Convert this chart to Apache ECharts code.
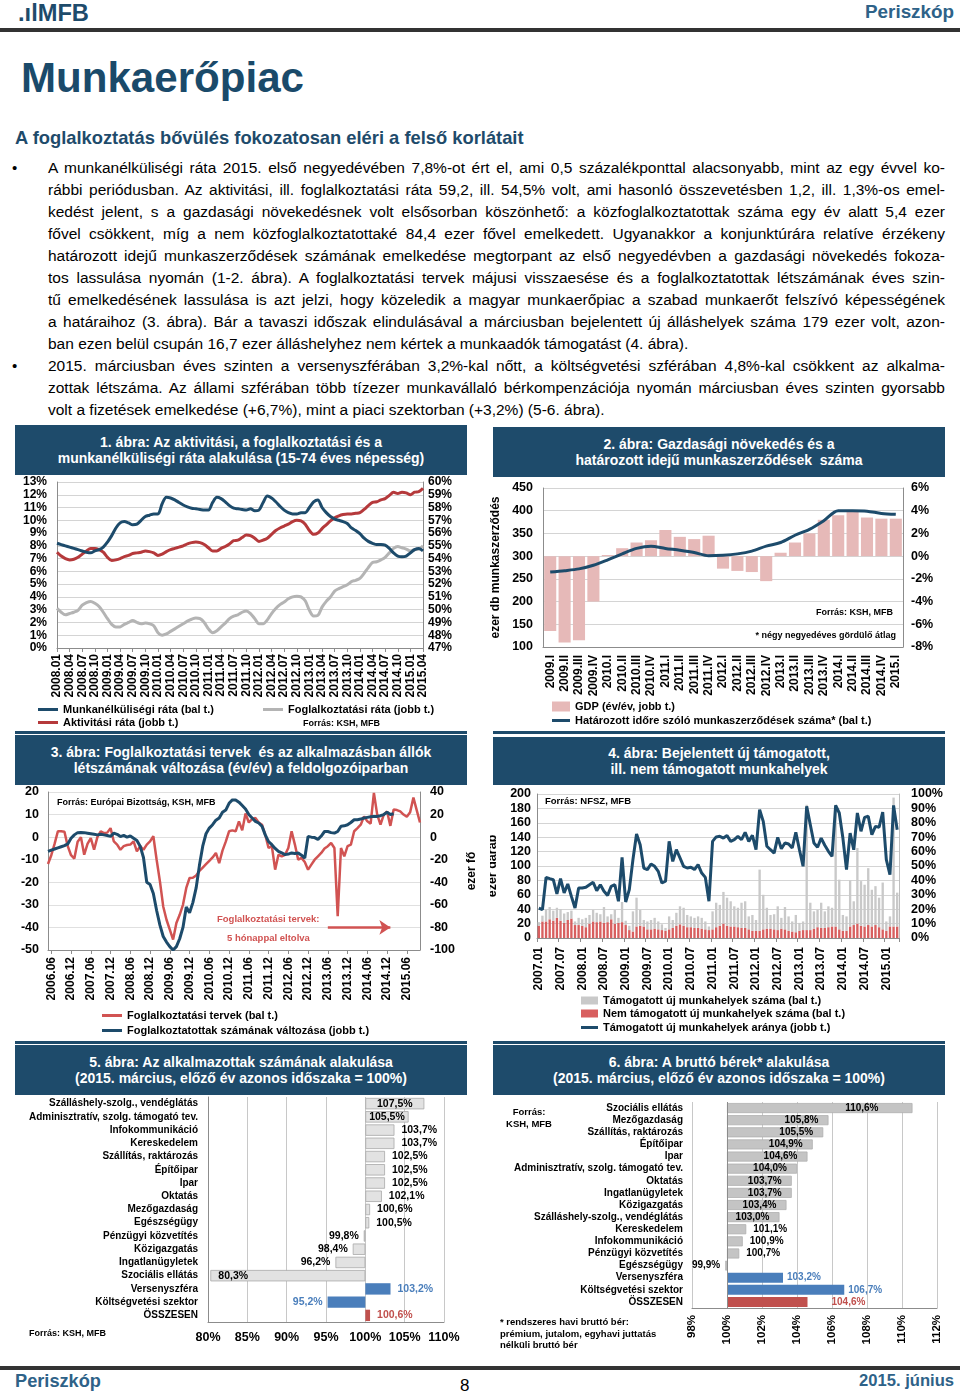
<!DOCTYPE html>
<html><head><meta charset="utf-8">
<script src="https://cdn.jsdelivr.net/npm/echarts@6.0.0/dist/echarts.min.js"></script>
<style>
html,body{margin:0;padding:0;background:#fff;}
body{width:960px;height:1395px;position:relative;overflow:hidden;font-family:"Liberation Sans",Arial,sans-serif;color:#000;}
.a{position:absolute;white-space:nowrap;}
.tbox{position:absolute;background:#1e4b6b;color:#fff;font-weight:bold;font-size:14px;line-height:16px;text-align:center;box-sizing:border-box;padding-top:9px;}
.chart{position:absolute;}
.bline{position:absolute;height:3px;background:#1e4b6b;}
.bl{position:absolute;left:48px;width:897px;height:22px;line-height:22px;text-align:justify;text-align-last:justify;}
.bl.last{text-align-last:left;}
.bullet{position:absolute;left:12px;height:22px;line-height:22px;font-size:15px;}
</style></head>
<body>
<div class="a" id="logo" style="left:18px;top:1px;height:24px;line-height:24px;font-weight:bold;font-size:21px;color:#1e4b6b;">.ılMFB</div>
<div class="a" id="hper" style="left:865px;top:1px;height:22px;line-height:22px;font-weight:bold;font-size:17px;color:#2e6288;">Periszkóp</div>
<div class="a" style="left:0;top:28px;width:960px;height:4px;background:#333;"></div>
<div class="a" id="mtitle" style="left:21px;top:57px;height:41px;line-height:41px;font-weight:bold;font-size:41px;color:#1a4a6a;">Munkaerőpiac</div>
<div class="a" id="subt" style="left:15px;top:128px;height:20px;line-height:20px;font-weight:bold;font-size:16px;color:#1e4b6b;">A foglalkoztatás bővülés fokozatosan eléri a felső korlátait</div>
<div id="body"></div>

<div class="tbox" style="left:15px;top:425px;width:452px;height:50px;">1. ábra: Az aktivitási, a foglalkoztatási és a<br>munkanélküliségi ráta alakulása (15-74 éves népesség)</div>
<div class="chart" id="c1" style="left:15px;top:475px;width:460px;height:255px;"></div>
<div class="bline" style="left:15px;top:731px;width:452px;"></div>

<div class="tbox" style="left:493px;top:427px;width:452px;height:50px;">2. ábra: Gazdasági növekedés és a<br>határozott idejű munkaszerződések&nbsp; száma</div>
<div class="chart" id="c2" style="left:490px;top:477px;width:460px;height:255px;"></div>
<div class="bline" style="left:493px;top:731px;width:452px;"></div>

<div class="tbox" style="left:15px;top:735px;width:452px;height:50px;">3. ábra: Foglalkoztatási tervek&nbsp; és az alkalmazásban állók<br>létszámának változása (év/év) a feldolgozóiparban</div>
<div class="chart" id="c3" style="left:15px;top:785px;width:460px;height:255px;"></div>
<div class="bline" style="left:15px;top:1041px;width:452px;"></div>

<div class="tbox" style="left:493px;top:737px;width:452px;height:48px;padding-top:8px;">4. ábra: Bejelentett új támogatott,<br>ill. nem támogatott munkahelyek</div>
<div class="chart" id="c4" style="left:490px;top:785px;width:460px;height:255px;"></div>
<div class="bline" style="left:493px;top:1041px;width:452px;"></div>

<div class="tbox" style="left:15px;top:1045px;width:452px;height:50px;">5. ábra: Az alkalmazottak számának alakulása<br>(2015. március, előző év azonos időszaka = 100%)</div>
<div class="chart" id="c5" style="left:15px;top:1095px;width:460px;height:262px;"></div>

<div class="tbox" style="left:493px;top:1045px;width:452px;height:50px;">6. ábra: A bruttó bérek* alakulása<br>(2015. március, előző év azonos időszaka = 100%)</div>
<div class="chart" id="c6" style="left:490px;top:1095px;width:460px;height:262px;"></div>

<div class="a" style="left:0;top:1366px;width:960px;height:4px;background:#333;"></div>
<div class="a" id="fper" style="left:15px;top:1371px;height:20px;line-height:20px;font-weight:bold;font-size:17px;color:#2e6288;">Periszkóp</div>
<div class="a" style="left:460px;top:1376px;height:20px;line-height:20px;font-size:17px;">8</div>
<div class="a" id="fdate" style="left:859px;top:1371px;height:20px;line-height:20px;font-weight:bold;font-size:17px;color:#2e6288;">2015. június</div>

<script>
// ---------------- TEXT ----------------
const bodyLines = [
 "A munkanélküliségi ráta 2015. első negyedévében 7,8%-ot ért el, ami 0,5 százalékponttal alacsonyabb, mint az egy évvel ko-",
 "rábbi periódusban. Az aktivitási, ill. foglalkoztatási ráta 59,2, ill. 54,5% volt, ami hasonló összevetésben 1,2, ill. 1,3%-os emel-",
 "kedést jelent, s a gazdasági növekedésnek volt elsősorban köszönhető: a közfoglalkoztatottak száma egy év alatt 5,4 ezer",
 "fővel csökkent, míg a nem közfoglalkoztatottaké 84,4 ezer fővel emelkedett. Ugyanakkor a konjunktúrára relatíve érzékeny",
 "határozott idejű munkaszerződések számának emelkedése megtorpant az első negyedévben a gazdasági növekedés fokoza-",
 "tos lassulása nyomán (1-2. ábra). A foglalkoztatási tervek májusi visszaesése és a foglalkoztatottak létszámának éves szin-",
 "tű emelkedésének lassulása is azt jelzi, hogy közeledik a magyar munkaerőpiac a szabad munkaerőt felszívó képességének",
 "a határaihoz (3. ábra). Bár a tavaszi időszak elindulásával a márciusban bejelentett új álláshelyek száma 179 ezer volt, azon-",
 "ban ezen belül csupán 16,7 ezer álláshelyhez nem kértek a munkaadók támogatást (4. ábra).",
 "2015. márciusban éves szinten a versenyszférában 3,2%-kal nőtt, a költségvetési szférában 4,8%-kal csökkent az alkalma-",
 "zottak létszáma. Az állami szférában több tízezer munkavállaló bérkompenzációja nyomán márciusban éves szinten gyorsabb",
 "volt a fizetések emelkedése (+6,7%), mint a piaci szektorban (+3,2%) (5-6. ábra)."
];
const lastLines = [8, 11];
const bulletLines = [0, 9];

// ---------------- DATA ----------------
// Figure 1 (monthly 2008.01 - 2015.04)
const unemployment = [8.2,8.1,8.0,7.9,7.8,7.7,7.6,7.5,7.45,7.6,7.7,7.9,
 8.3,8.8,9.4,9.8,9.9,9.8,9.65,9.7,10.0,10.3,10.4,10.5,
 10.5,11.3,11.8,11.75,11.6,11.4,11.2,11.05,10.95,10.9,10.85,10.8,
 10.8,11.4,11.8,11.7,11.45,11.15,10.95,10.9,10.85,10.8,10.9,10.75,
 10.8,11.4,11.9,11.75,11.45,11.1,10.8,10.6,10.5,10.5,10.6,10.6,
 11.0,11.45,11.6,11.0,10.6,10.3,10.1,10.0,9.9,9.75,9.4,9.2,
 8.95,8.6,8.35,8.2,8.1,8.1,8.05,7.8,7.45,7.2,7.15,7.2,
 7.45,7.7,7.8,7.6];
const activity = [54.5,54.2,54.0,53.9,53.95,54.1,54.35,54.6,54.8,54.8,54.7,54.5,
 54.1,53.85,53.9,54.0,54.15,54.25,54.4,54.45,54.5,54.6,54.55,54.45,
 54.25,54.35,54.55,54.7,54.8,54.9,55.0,55.15,55.25,55.3,55.25,55.1,
 54.85,54.6,54.6,54.8,54.95,55.15,55.4,55.45,55.65,55.85,55.8,55.6,
 55.35,55.45,55.6,55.9,56.2,56.4,56.55,56.7,56.9,57.0,56.95,56.7,
 56.2,55.9,56.0,56.35,56.65,56.95,57.2,57.35,57.45,57.5,57.5,57.55,
 57.6,57.85,58.15,58.4,58.45,58.6,58.7,58.95,59.2,59.1,59.2,59.15,
 59.0,59.2,59.25,59.5];
const employment = [50.1,49.8,49.6,49.7,49.8,49.95,50.35,50.55,50.65,50.5,50.25,49.8,
 49.3,48.85,48.65,48.65,48.85,49.0,49.15,49.0,48.9,48.95,48.9,48.75,
 48.2,48.0,48.1,48.3,48.5,48.7,48.9,49.1,49.25,49.35,49.3,49.0,
 48.5,48.2,48.35,48.65,48.95,49.3,49.5,49.6,49.8,49.9,49.7,49.3,
 48.9,48.9,49.2,49.7,50.1,50.4,50.6,50.85,51.0,51.05,51.0,50.7,
 49.95,49.5,49.55,50.2,50.65,51.0,51.45,51.65,51.8,51.95,52.2,52.3,
 52.45,52.85,53.3,53.7,53.75,53.9,54.1,54.45,54.8,54.95,54.85,54.75,
 54.6,54.7,54.75,55.0];

// Figure 2 (quarterly 2009.I - 2015.I)
const gdp = [-6.6,-7.6,-7.4,-4.0,0.1,0.7,1.2,1.4,2.3,1.7,1.5,1.8,-1.1,-1.3,-1.4,-2.2,0.3,1.2,2.0,3.2,3.6,3.9,3.4,3.3,3.3];
const contracts = [265,268,272,280,292,305,317,322,317,313,308,301,302,305,311,322,330,346,359,378,400,400,399,394,392];

// Figure 3 (monthly 2006.05 - 2015.10)
const plans = [-11.9,-8,-3,2.6,2.6,2.4,-4,-8,-9.5,-2,
 0,-7.8,-3,-0.4,-5.6,0,2.6,1.8,2,4,
 -1.9,-3.3,-5.6,-4,-3.5,-3.3,-1.9,-6.3,-4,-5.6,
 -3.3,-1.9,0.4,-10,-19.6,-30.7,-36.6,-41,-45.4,-38,
 -34.4,-30,-22.5,-18.1,-18,-17,-15,-13.5,-12,-10.5,
 -9,-7,-11.5,-6,-2,2.6,3,2.6,7,3,
 10.5,6.5,8,8.5,6.5,5.5,1,-4.8,-4,-14.4,
 -7.8,-8.5,-7.8,-4.8,2.6,-3.3,-10,-9.2,-11,-14.4,
 -12.2,-10,-8.5,-7,-5,-4,-2.6,-4.8,-35,-4.8,
 -8.5,-4,-3.3,2.6,4,5.5,9.2,7,6,19.6,
 10,5.5,10,11.4,5,12.2,12,11.4,10,9,
 11,17.5,12,6.5];
const employedChange = [-12.6,-11.5,-10.5,-9.5,-8.5,-7.5,-6,-1,2,4,
 4.2,4,3.5,3,2.5,2,2.5,2,1.5,0.7,
 3.5,2.5,0.5,1.5,0,1,-1,-3,-8,-18,
 -40,-42,-50,-65,-78,-88,-93,-97,-100,-97,
 -90,-80,-62,-67,-58,-45,-25,-8,3,8,
 11,15,17,22,24,30,33,33,31,28,
 25,20,17,14,12.5,9.6,2,-4,-6.7,-10,
 -12.6,-14,-15.5,-15,-14,-14.5,-14,-16,-18.5,0.7,
 0,-0.4,-2,1,5,5,4,3.6,5,9.6,
 10,11,13,15.4,15.4,16,17,17.5,18,18.4,
 18.4,19,20,22,20,20.7];

// Figure 4 (monthly 2007.01 - 2015.04), ezer darab
const supportedJobs = [5,8,16,17,14,14,16,13,11,11,5,10,
 9,13,12,16,13,10,22,8,7,19,7,28,
 6,6,28,40,22,9,11,13,15,11,8,4,
 18,11,18,25,25,17,15,14,16,15,11,5,
 25,34,29,44,39,35,28,27,35,37,18,22,
 15,85,48,29,19,21,33,15,31,20,14,24,
 11,12,174,38,24,24,35,23,29,26,169,69,
 22,20,64,33,105,62,58,79,51,54,41,65,
 13,14,179,47];
const unsupportedJobs = [17,23,23,26,24,28,24,21,25,27,18,18,
 17,15,20,23,22,23,21,22,26,20,21,22,
 18,11,9,16,17,16,12,12,13,12,11,10,
 12,14,17,19,17,15,15,14,14,13,12,11,
 12,15,17,20,17,16,16,15,14,14,12,10,
 10,10,12,13,13,12,11,13,12,10,9,8,
 10,11,11,11,13,15,14,14,15,16,16,12,
 10,10,16,18,20,17,16,18,16,18,15,12,
 10,16,16,16];
const supportedShare = [20.8,19.7,42.1,41.2,40.5,30.6,41.2,31.3,37.5,28.9,
 20.8,34.7,34.7,35.2,37.0,38.7,32.9,37.0,32.4,29.6,
 35.9,37.0,25.5,56.0,25.0,33.6,54.4,72.2,64.8,48.6,
 47.5,51.4,49.8,46.3,38.2,39.4,67.1,53.2,61.3,55.6,
 49.8,48.6,49.1,47.5,50.9,45.1,42.1,25.5,67.1,70.2,
 70.6,69.4,71.1,67.1,68.3,70.6,68.3,73.4,67.1,71.3,
 61.3,89.1,81.0,63.7,61.3,59.0,69.9,62.0,66.0,65.3,
 62.5,73.4,61.3,49.8,91.4,78.7,66.0,63.0,69.4,64.4,
 60.2,56.7,92.1,86.8,69.4,47.5,72.9,61.3,86.8,74.1,
 83.8,84.5,71.8,77.5,76.9,87.5,54.4,44.0,92.1,75.2];

// Figure 5
const sectors5 = ['Szálláshely-szolg., vendéglátás','Adminisztratív, szolg. támogató tev.','Infokommunikáció','Kereskedelem','Szállítás, raktározás','Építőipar','Ipar','Oktatás','Mezőgazdaság','Egészségügy','Pénzügyi közvetítés','Közigazgatás','Ingatlanügyletek','Szociális ellátás','Versenyszféra','Költségvetési szektor','ÖSSZESEN'];
const employees5 = [107.5,105.5,103.7,103.7,102.5,102.5,102.5,102.1,100.6,100.5,99.8,98.4,96.2,80.3,103.2,95.2,100.6];

// Figure 6
const sectors6 = ['Szociális ellátás','Mezőgazdaság','Szállítás, raktározás','Építőipar','Ipar','Adminisztratív, szolg. támogató tev.','Oktatás','Ingatlanügyletek','Közigazgatás','Szálláshely-szolg., vendéglátás','Kereskedelem','Infokommunikáció','Pénzügyi közvetítés','Egészségügy','Versenyszféra','Költségvetési szektor','ÖSSZESEN'];
const wages6 = [110.6,105.8,105.5,104.9,104.6,104.0,103.7,103.7,103.4,103.0,101.1,100.9,100.7,99.9,103.2,106.7,104.6];

// ---------------- HELPERS ----------------
function monthRange(y0, m0, y1, m1) {
  const a = []; let y = y0, m = m0;
  while (y < y1 || (y === y1 && m <= m1)) { a.push(y + '.' + String(m).padStart(2, '0')); m++; if (m > 12) { m = 1; y++; } }
  return a;
}
const months1 = monthRange(2008, 1, 2015, 4);
const quarters2 = [];
for (let y = 2009; y <= 2015; y++) for (const q of ['I','II','III','IV']) { if (y === 2015 && q !== 'I') break; quarters2.push(y + '.' + q); }
const months3 = monthRange(2006, 5, 2015, 10);
const months4 = monthRange(2007, 1, 2015, 4);

const FONT = '"Liberation Sans", Arial, sans-serif';
const B = {fontFamily: FONT, fontWeight: 'bold', color: '#000'};
const BLUE = '#1d4b6b', RED1 = '#b5393b', GRAY1 = '#b4b4b4', RED3 = '#d15352';
const AX = '#8c8c8c', GRID = '#d4d4d4';
const pct = v => v.toFixed(1).replace('.', ',') + '%';

function lg(name, left, top, w, h, fs) {
  return {data: [name], left, top, padding: 0, itemWidth: w, itemHeight: h, icon: 'rect', selectedMode: false,
    textStyle: Object.assign({}, B, {fontSize: fs || 11})};
}
function gtext(text, left, top, size, color, extra) {
  return Object.assign({type: 'text', left, top, silent: true,
    style: {text, font: 'bold ' + size + 'px ' + FONT, fill: color || '#000'}}, extra || {});
}
function init(id) { return echarts.init(document.getElementById(id), null, {renderer: 'canvas'}); }

// body text
(function(){
  const host = document.getElementById('body');
  const meas = document.createElement('span');
  meas.style.cssText = 'position:absolute;visibility:hidden;white-space:nowrap;font-size:15px;font-family:' + FONT;
  document.body.appendChild(meas);
  let maxW = 0;
  bodyLines.forEach(t => { meas.textContent = t; maxW = Math.max(maxW, meas.getBoundingClientRect().width); });
  meas.remove();
  const fs = Math.min(15.5, 15 * 893 / maxW);
  bodyLines.forEach((t, i) => {
    const d = document.createElement('div');
    d.className = 'bl' + (lastLines.includes(i) ? ' last' : '');
    d.style.top = (157 + 22 * i) + 'px';
    d.style.fontSize = fs + 'px';
    d.textContent = t;
    host.appendChild(d);
    if (bulletLines.includes(i)) {
      const b = document.createElement('div'); b.className = 'bullet'; b.style.top = (157 + 22 * i) + 'px'; b.textContent = '•'; host.appendChild(b);
    }
  });
})();
function fitW(id, w) { const el = document.getElementById(id); const cw = el.getBoundingClientRect().width; const fs = parseFloat(getComputedStyle(el).fontSize); el.style.fontSize = (fs * w / cw) + 'px'; }
fitW('logo', 71); fitW('hper', 89); fitW('mtitle', 283); fitW('subt', 509); fitW('fper', 86); fitW('fdate', 95);
(function(){ const el = document.getElementById('fdate'); el.style.left = (954 - el.getBoundingClientRect().width) + 'px';
  const h = document.getElementById('hper'); h.style.left = (954 - h.getBoundingClientRect().width) + 'px'; })();

// ---------------- CHART 1 ----------------
init('c1').setOption({
  animation: false, textStyle: {fontFamily: FONT},
  grid: {left: 42, right: 52, top: 7, bottom: 82, containLabel: false, outerBoundsMode: 'none'},
  xAxis: {type: 'category', data: months1, boundaryGap: false,
    axisLine: {onZero: false, lineStyle: {color: AX}},
    axisTick: {show: true, interval: 2, length: 4, lineStyle: {color: AX}},
    axisLabel: Object.assign({}, B, {interval: 2, rotate: 90, fontSize: 12, margin: 6})},
  yAxis: [
    {type: 'value', min: 0, max: 13, interval: 1, axisLabel: Object.assign({}, B, {fontSize: 12, formatter: '{value}%', margin: 10, showMinLabel: true, showMaxLabel: true}),
     axisLine: {show: true, lineStyle: {color: AX}}, axisTick: {show: false}, splitLine: {lineStyle: {color: GRID}}},
    {type: 'value', min: 47, max: 60, interval: 1, position: 'right', axisLabel: Object.assign({}, B, {fontSize: 12, formatter: '{value}%', margin: 5, showMinLabel: true, showMaxLabel: true}),
     axisLine: {show: true, lineStyle: {color: AX}}, axisTick: {show: false}, splitLine: {show: false}}
  ],
  legend: [lg('Munkanélküliségi ráta (bal t.)', 23, 229, 20, 3), lg('Foglalkoztatási ráta (jobb t.)', 248, 229, 20, 3), lg('Aktivitási ráta (jobb t.)', 23, 242, 20, 3)],
  series: [
    {name: 'Foglalkoztatási ráta (jobb t.)', type: 'line', yAxisIndex: 1, data: employment, symbol: 'none', smooth: 0.3, lineStyle: {width: 3, color: GRAY1}, itemStyle: {color: GRAY1}},
    {name: 'Aktivitási ráta (jobb t.)', type: 'line', yAxisIndex: 1, data: activity, symbol: 'none', smooth: 0.3, lineStyle: {width: 3, color: RED1}, itemStyle: {color: RED1}},
    {name: 'Munkanélküliségi ráta (bal t.)', type: 'line', yAxisIndex: 0, data: unemployment, symbol: 'none', smooth: 0.3, lineStyle: {width: 3, color: BLUE}, itemStyle: {color: BLUE}}
  ],
  graphic: [gtext('Forrás: KSH, MFB', 288, 244, 9)]
});

// ---------------- CHART 2 ----------------
init('c2').setOption({
  animation: false, textStyle: {fontFamily: FONT},
  grid: {left: 53, right: 47, top: 11, bottom: 85, containLabel: false, outerBoundsMode: 'none'},
  xAxis: {type: 'category', data: quarters2, boundaryGap: true,
    axisLine: {onZero: false, lineStyle: {color: AX}}, axisTick: {show: false},
    axisLabel: Object.assign({}, B, {interval: 0, rotate: 90, fontSize: 12, margin: 8})},
  yAxis: [
    {type: 'value', min: 100, max: 450, interval: 50, name: 'ezer db munkaszerződés', nameLocation: 'middle', nameGap: 40, nameRotate: 90,
     nameTextStyle: Object.assign({}, B, {fontSize: 12}),
     axisLabel: Object.assign({}, B, {fontSize: 12.5, margin: 10, showMinLabel: true, showMaxLabel: true}),
     axisLine: {show: true, lineStyle: {color: AX}}, axisTick: {show: false}, splitLine: {lineStyle: {color: GRID}}},
    {type: 'value', min: -8, max: 6, interval: 2, position: 'right',
     axisLabel: Object.assign({}, B, {fontSize: 12.5, formatter: '{value}%', margin: 8, showMinLabel: true, showMaxLabel: true}),
     axisLine: {show: true, lineStyle: {color: AX}}, axisTick: {show: false}, splitLine: {show: false}}
  ],
  legend: [lg('GDP (év/év, jobb t.)', 62, 224, 18, 10), lg('Határozott időre szóló munkaszerződések száma* (bal t.)', 62, 238, 18, 3)],
  series: [
    {name: 'GDP (év/év, jobb t.)', type: 'bar', yAxisIndex: 1, data: gdp, barCategoryGap: '16%', itemStyle: {color: '#e6b9b8'}},
    {name: 'Határozott időre szóló munkaszerződések száma* (bal t.)', type: 'line', yAxisIndex: 0, data: contracts, symbol: 'none', smooth: 0.3,
     lineStyle: {width: 3, color: BLUE}, itemStyle: {color: BLUE}}
  ],
  graphic: [gtext('Forrás: KSH, MFB', null, 131, 9, '#000', {right: 57}), gtext('* négy negyedéves gördülő átlag', null, 154, 9, '#000', {right: 54})]
});

// ---------------- CHART 3 ----------------
init('c3').setOption({
  animation: false, textStyle: {fontFamily: FONT},
  grid: {left: 33, right: 55, top: 7, bottom: 90, containLabel: false, outerBoundsMode: 'none'},
  xAxis: {type: 'category', data: months3, boundaryGap: false,
    axisLine: {onZero: false, lineStyle: {color: AX}},
    axisTick: {show: true, length: 4, interval: (i) => (i - 1) % 6 === 0, lineStyle: {color: AX}},
    axisLabel: Object.assign({}, B, {interval: (i) => (i - 1) % 6 === 0, rotate: 90, fontSize: 12, margin: 7})},
  yAxis: [
    {type: 'value', min: -50, max: 20, interval: 10, axisLabel: Object.assign({}, B, {fontSize: 12.5, margin: 9, showMinLabel: true, showMaxLabel: true}),
     axisLine: {show: true, lineStyle: {color: AX}}, axisTick: {show: false}, splitLine: {lineStyle: {color: '#e0e0e0'}}},
    {type: 'value', min: -100, max: 40, interval: 20, position: 'right', name: 'ezer fő', nameLocation: 'middle', nameGap: 38, nameRotate: 90,
     nameTextStyle: Object.assign({}, B, {fontSize: 12}),
     axisLabel: Object.assign({}, B, {fontSize: 12.5, margin: 10, showMinLabel: true, showMaxLabel: true}),
     axisLine: {show: true, lineStyle: {color: AX}}, axisTick: {show: false}, splitLine: {show: false}}
  ],
  legend: [lg('Foglalkoztatási tervek (bal t.)', 87, 225, 20, 3), lg('Foglalkoztatottak számának változása (jobb t.)', 87, 240, 20, 3)],
  series: [
    {name: 'Foglalkoztatási tervek (bal t.)', type: 'line', yAxisIndex: 0, data: plans, symbol: 'none',
     lineStyle: {width: 2.5, color: RED3}, itemStyle: {color: RED3},
     markLine: {silent: true, symbol: ['none', 'arrow'], symbolSize: 11, label: {show: false}, lineStyle: {color: RED3, width: 2.5, type: 'solid'},
       data: [[{coord: ['2013.06', -40]}, {coord: ['2015.01', -40]}]]}},
    {name: 'Foglalkoztatottak számának változása (jobb t.)', type: 'line', yAxisIndex: 1, data: employedChange, symbol: 'none',
     lineStyle: {width: 3, color: BLUE}, itemStyle: {color: BLUE}}
  ],
  graphic: [gtext('Forrás: Európai Bizottság, KSH, MFB', 42, 13, 9),
            gtext('Foglalkoztatási tervek:', 202, 129, 9.5, RED3),
            gtext('5 hónappal eltolva', 212, 148, 9.5, RED3)]
});

// ---------------- CHART 4 ----------------
init('c4').setOption({
  animation: false, textStyle: {fontFamily: FONT},
  grid: {left: 47, right: 51, top: 9, bottom: 102, containLabel: false, outerBoundsMode: 'none'},
  xAxis: {type: 'category', data: months4, boundaryGap: true,
    axisLine: {onZero: false, lineStyle: {color: AX}},
    axisTick: {show: true, length: 4, interval: (i) => i % 6 === 0, lineStyle: {color: AX}},
    axisLabel: Object.assign({}, B, {interval: (i) => i % 6 === 0, rotate: 90, fontSize: 12, margin: 9})},
  yAxis: [
    {type: 'value', min: 0, max: 200, interval: 20, name: 'ezer darab', nameLocation: 'middle', nameGap: 32, nameRotate: 90,
     nameTextStyle: Object.assign({}, B, {fontSize: 12.5}),
     axisLabel: Object.assign({}, B, {fontSize: 12.5, margin: 6, showMinLabel: true, showMaxLabel: true}),
     axisLine: {show: true, lineStyle: {color: AX}}, axisTick: {show: false}, splitLine: {lineStyle: {color: GRID}}},
    {type: 'value', min: 0, max: 100, interval: 10, position: 'right',
     axisLabel: Object.assign({}, B, {fontSize: 12.5, formatter: '{value}%', margin: 12, showMinLabel: true, showMaxLabel: true}),
     axisLine: {show: true, lineStyle: {color: '#bdbdbd'}}, axisTick: {show: false}, splitLine: {show: false}}
  ],
  legend: [lg('Támogatott új munkahelyek száma (bal t.)', 91, 210, 17, 8), lg('Nem támogatott új munkahelyek száma (bal t.)', 91, 223, 17, 8),
           lg('Támogatott új munkahelyek aránya (jobb t.)', 91, 237, 17, 3)],
  series: [
    {name: 'Nem támogatott új munkahelyek száma (bal t.)', type: 'bar', stack: 'jobs', yAxisIndex: 0, data: unsupportedJobs, barCategoryGap: '35%', itemStyle: {color: '#d85f5f'}},
    {name: 'Támogatott új munkahelyek száma (bal t.)', type: 'bar', stack: 'jobs', yAxisIndex: 0, data: supportedJobs, itemStyle: {color: '#c9c9c9'}},
    {name: 'Támogatott új munkahelyek aránya (jobb t.)', type: 'line', yAxisIndex: 1, data: supportedShare, symbol: 'none',
     lineStyle: {width: 3, color: BLUE}, itemStyle: {color: BLUE}}
  ],
  graphic: [gtext('Forrás: NFSZ, MFB', 55, 11, 9.5)]
});

// ---------------- CHART 5 & 6 (bars from 100%) ----------------
const SPECIAL = {'Versenyszféra': '#4a7ebb', 'Költségvetési szektor': '#4a7ebb', 'ÖSSZESEN': '#c0504d'};
function hbarOption(cats, vals, cfg) {
  const base = vals.map(v => Math.min(v, 100));
  const diff = vals.map((v, i) => {
    const c = SPECIAL[cats[i]];
    const lab = cfg.labelFor(v, !!c, i);
    return {value: Math.abs(v - 100),
      itemStyle: c ? {color: c} : {color: cfg.gray, borderColor: cfg.grayBorder, borderWidth: 0.8},
      label: Object.assign({show: true, formatter: pct(v), color: c || '#000', fontFamily: FONT, fontWeight: 'bold', fontSize: cfg.labelSize}, lab)};
  });
  return {
    animation: false, textStyle: {fontFamily: FONT},
    grid: Object.assign({containLabel: false, outerBoundsMode: 'none'}, cfg.grid),
    xAxis: {type: 'value', min: cfg.min, max: cfg.max, interval: cfg.step,
      axisLabel: Object.assign({}, B, {fontSize: cfg.xSize, formatter: '{value}%', rotate: cfg.xRotate, margin: cfg.xMargin, showMinLabel: true, showMaxLabel: true}),
      axisLine: {show: true, lineStyle: {color: AX}}, axisTick: {show: false}, splitLine: {show: true, lineStyle: {color: '#c8c8c8'}}},
    yAxis: {type: 'category', data: cats, inverse: true,
      axisLabel: Object.assign({}, B, {interval: 0, fontSize: 10, margin: cfg.catMargin}),
      axisLine: {show: cfg.leftLine, lineStyle: {color: AX}}, axisTick: {show: false}},
    series: [
      {type: 'bar', stack: 's', data: base, silent: true, itemStyle: {color: 'rgba(0,0,0,0)'}, barCategoryGap: cfg.gap},
      Object.assign({type: 'bar', stack: 's', data: diff}, cfg.extra || {})
    ],
    graphic: cfg.graphic
  };
}

init('c5').setOption(hbarOption(sectors5, employees5, {
  grid: {left: 193, right: 31, top: 2, bottom: 35}, min: 80, max: 110, step: 5, xSize: 12.5, xRotate: 0, xMargin: 9,
  catMargin: 10, leftLine: true, gap: '14%', labelSize: 10.5, gray: '#e2e2e2', grayBorder: '#a8a8a8',
  labelFor: (v, special) => v < 100 ? (v < 90 ? {position: 'insideLeft', distance: 8} : {position: 'left', distance: 5})
                                    : (v > 104 && !special ? {position: 'inside'} : {position: 'right', distance: 7}),
  graphic: [gtext('Forrás: KSH, MFB', 14, 234, 9)]
}));

init('c6').setOption(hbarOption(sectors6, wages6, {
  grid: {left: 202, right: 13, top: 7, bottom: 49}, min: 98, max: 112, step: 2, xSize: 11.5, xRotate: 90, xMargin: 7,
  catMargin: 9, leftLine: false, gap: '17%', labelSize: 10, gray: '#c4c4c4', grayBorder: '#b0b0b0',
  labelFor: (v, special, i) => {
    if (v < 100) return {position: 'left', distance: 5};
    if (special) return {position: 'right', distance: v > 104 && v < 105 ? 24 : 4};
    if (v >= 103) return {position: 'insideRight', distance: v > 110 ? 34 : 10};
    return {position: 'right', distance: 7};
  },
  extra: {markLine: {silent: true, symbol: 'none', label: {show: false}, lineStyle: {color: '#8c8c8c', width: 1, type: 'solid'}, data: [{xAxis: 100}]}},
  graphic: [
    {type: 'text', x: 39, y: 11, silent: true, style: {text: 'Forrás:\nKSH, MFB', align: 'center', font: 'bold 9.5px ' + FONT, fill: '#000', lineHeight: 12}},
    {type: 'text', left: 10, top: 222, silent: true, style: {text: '* rendszeres havi bruttó bér:\nprémium, jutalom, egyhavi juttatás\nnélküli bruttó bér', font: 'bold 9.5px ' + FONT, fill: '#000', lineHeight: 11.5}}
  ]
}));
</script>
</body></html>
